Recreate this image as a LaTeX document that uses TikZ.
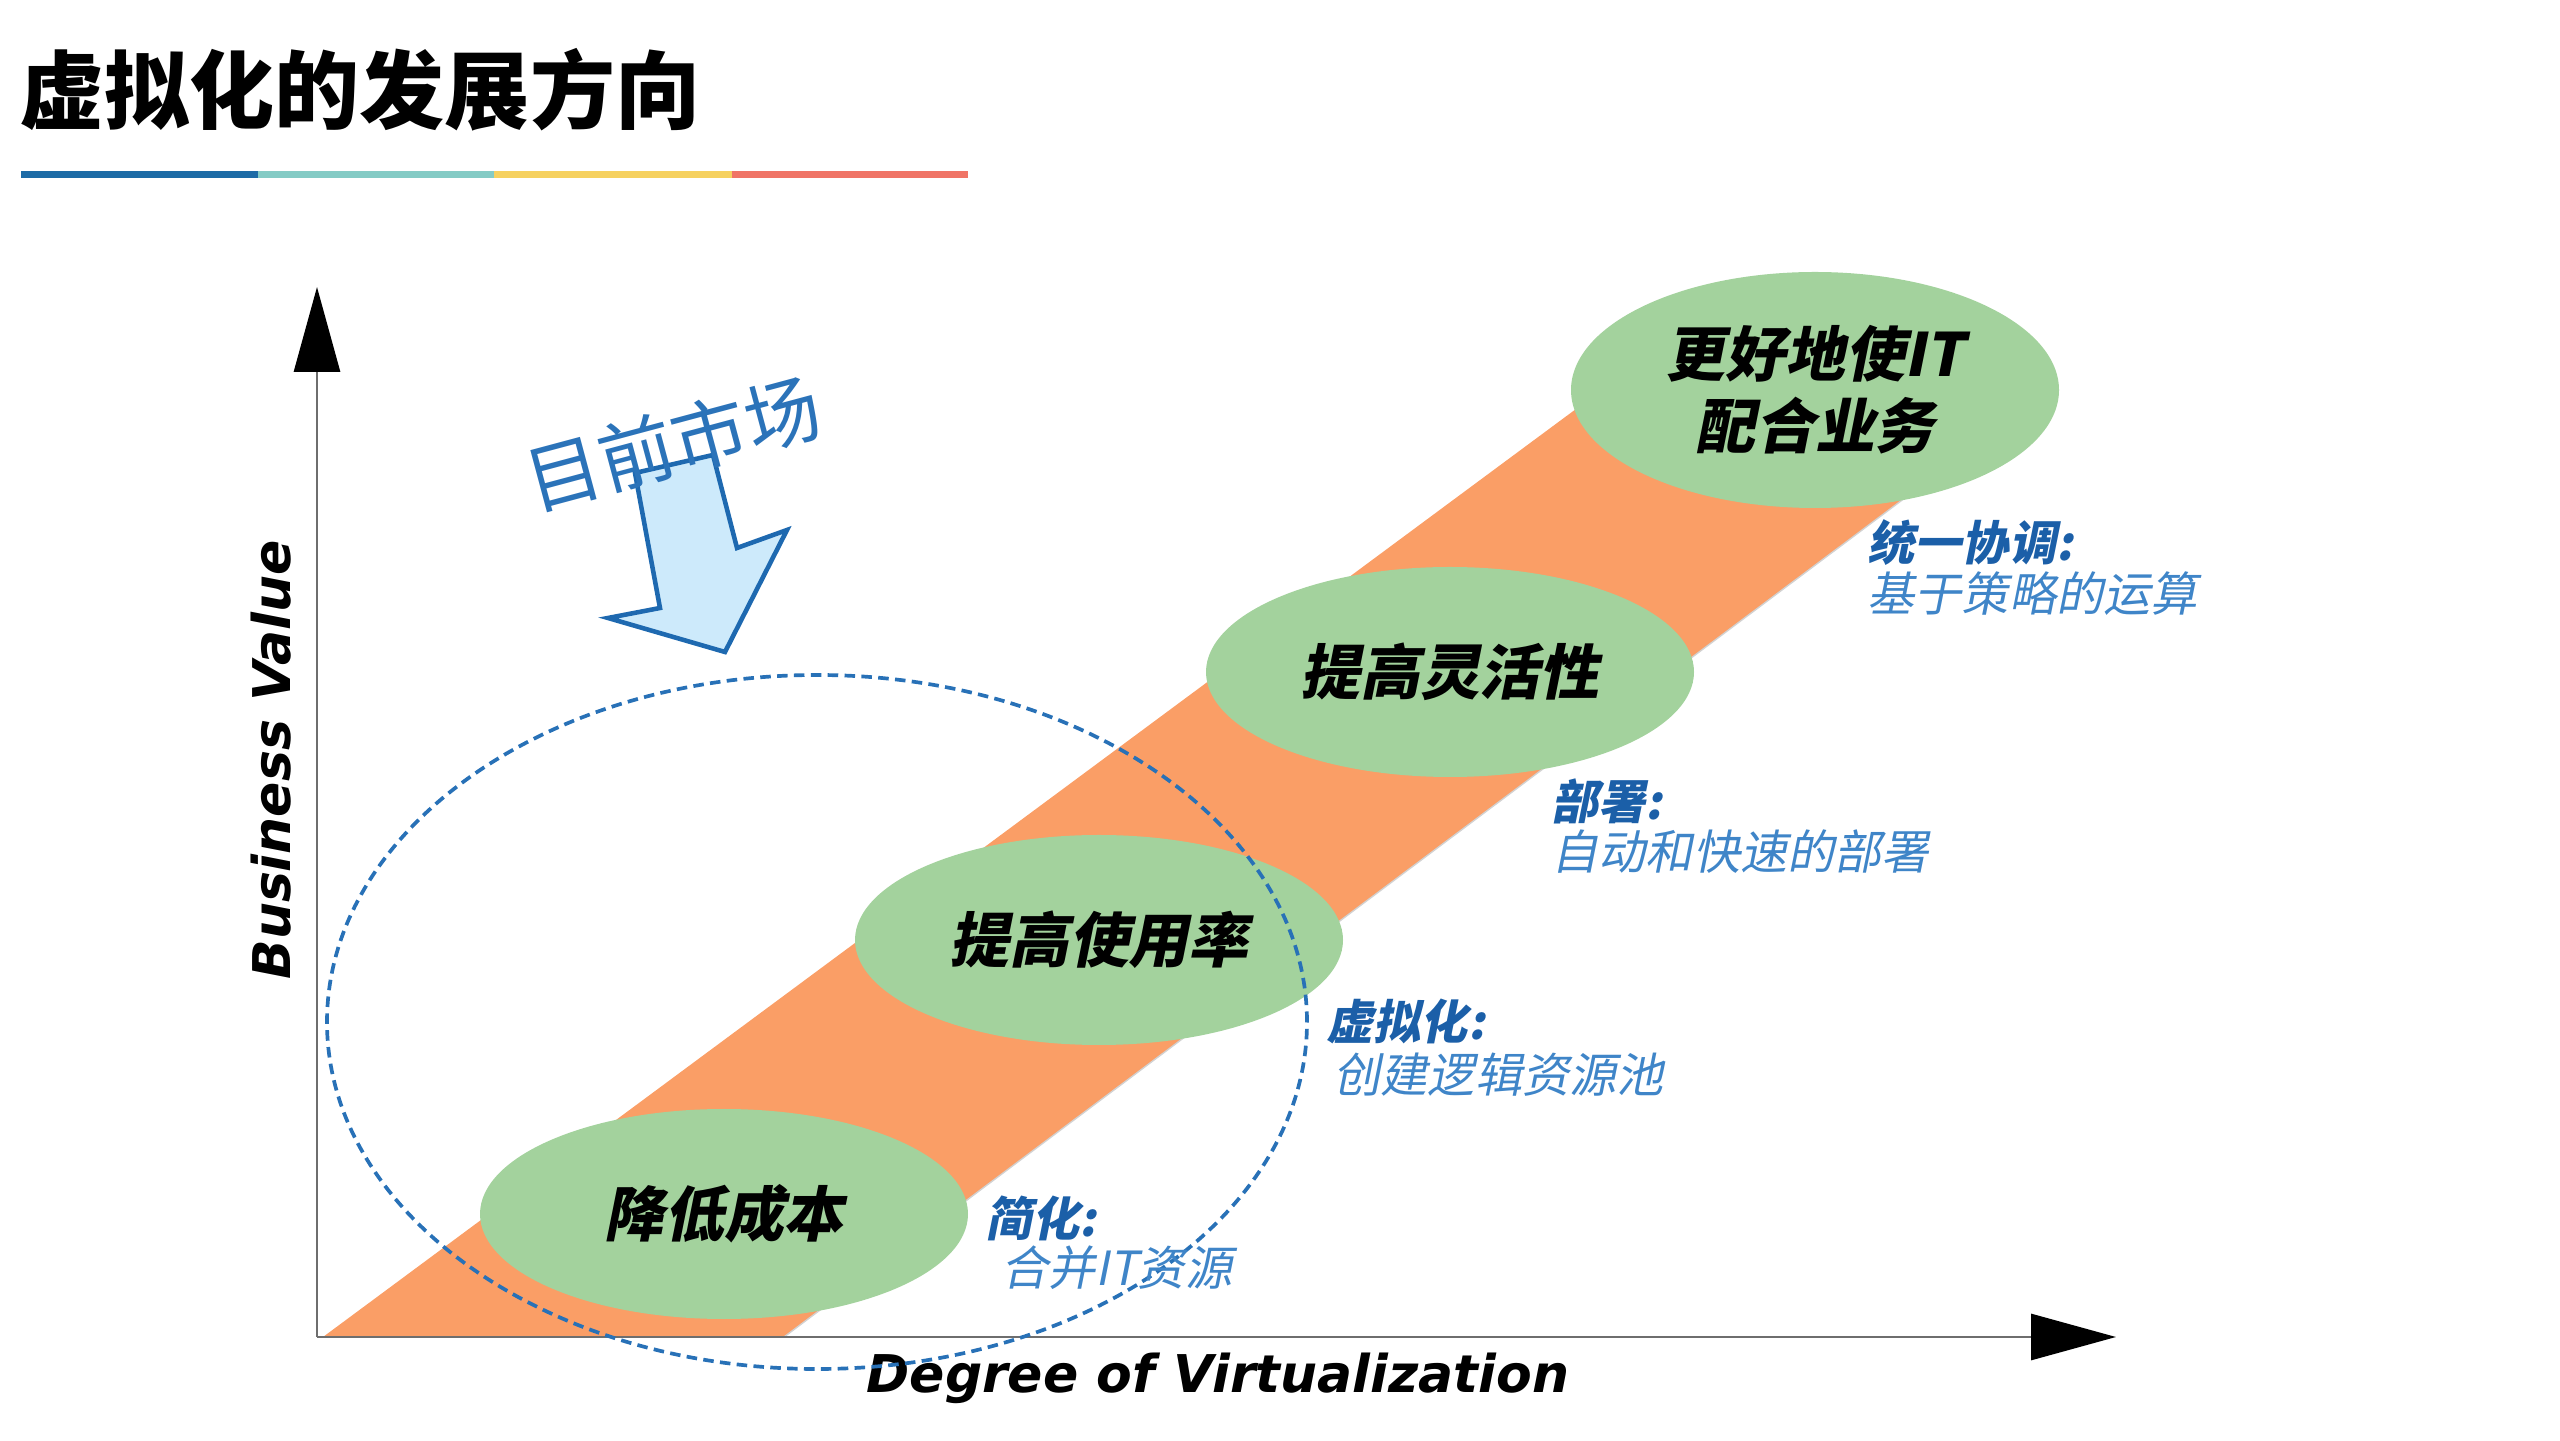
\documentclass[tikz,border=0pt]{standalone}
\usepackage{fontspec}
\setsansfont{DejaVu Sans}
\newfontfamily\cjk{Noto Sans CJK SC}
\newfontfamily\cjksl{Noto Sans CJK SC}[FakeSlant=0.2]
\usetikzlibrary{shapes.geometric}
\usetikzlibrary{arrows.meta}

\definecolor{barblue}{HTML}{1D6BA6}
\definecolor{barteal}{HTML}{84CBC5}
\definecolor{baryellow}{HTML}{F6D15F}
\definecolor{barred}{HTML}{F07466}
\definecolor{bandorange}{HTML}{FA9E66}
\definecolor{goalgreen}{HTML}{A3D29D}
\definecolor{headblue}{HTML}{1B5FA8}
\definecolor{textblue}{HTML}{3F85C8}
\definecolor{marketblue}{HTML}{2B73B9}
\definecolor{arrowline}{HTML}{1E69B0}
\definecolor{arrowfill}{HTML}{CDEAFB}
\definecolor{axisgray}{HTML}{6E6E6E}

\begin{document}
\begin{tikzpicture}[
  goal/.style={ellipse,fill=goalgreen,minimum width=4.88cm,minimum height=2.1cm,inner sep=0pt,align=center,
    font=\cjksl\bfseries\fontsize{17}{20.5}\selectfont},
  headlbl/.style={anchor=west,inner sep=0pt,text=headblue,font=\cjksl\bfseries\fontsize{13.4}{16}\selectfont},
  detaillbl/.style={anchor=west,inner sep=0pt,text=textblue,font=\cjksl\fontsize{13.4}{16}\selectfont},
  axislbl/.style={inner sep=0pt,font=\sffamily\bfseries\itshape\fontsize{14.8}{18}\selectfont},
  axis/.style={axisgray,line width=0.85pt,-{Triangle[length=0.85cm,width=0.46cm,color=black]}}]
  \useasboundingbox (0,0) rectangle (25.6,14.4);
  % title and bar
  \node[anchor=west,inner sep=0pt,font=\cjk\bfseries\fontsize{24.2}{29}\selectfont] (title) at (0.19,13.5) {虚拟化的发展方向};
  \draw[barblue,line width=0.07cm] (0.21,12.65) -- (2.58,12.65);
  \draw[barteal,line width=0.07cm] (2.58,12.65) -- (4.94,12.65);
  \draw[baryellow,line width=0.07cm] (4.94,12.65) -- (7.32,12.65);
  \draw[barred,line width=0.07cm] (7.32,12.65) -- (9.68,12.65);
  % band
  \fill[bandorange] (3.23,1.03) -- (7.84,1.03) -- (19.69,9.90) -- (17.07,11.28) -- cycle;
  \draw[gray!35,line width=0.4pt] (7.84,1.03) -- (19.69,9.90);
  % axes
  \coordinate (O) at (3.17,1.03);
  \coordinate (ytip) at (3.17,11.53);
  \coordinate (xtip) at (21.16,1.03);
  \draw[axis] (O) -- (ytip);
  \draw[axis] (O) -- (xtip);
  \node[axislbl,rotate=90] (yl) at (2.71,6.80) {Business Value};
  \node[axislbl] (xl) at (12.18,0.62) {Degree of Virtualization};
  % goals
  \node[goal] (cost) at (7.24,2.26) {降低成本};
  \node[goal] (use) at (10.99,5.00) {提高使用率};
  \node[goal] (flex) at (14.50,7.68) {提高灵活性};
  \node[goal,minimum height=2.36cm] (biz) at (18.15,10.50) {更好地使IT\\配合业务};
  % current market
  \draw[marketblue!80!arrowline,dash pattern=on 3pt off 1.8pt,line width=1.05pt] (8.17,4.18) ellipse [x radius=4.90,y radius=3.47];
  \draw[arrowline,fill=arrowfill,line width=1.3pt,line join=miter]
    (6.35,9.67) -- (7.13,9.85) -- (7.37,8.92) -- (7.87,9.10) -- (7.25,7.88) -- (6.08,8.22) -- (6.60,8.32) -- cycle;
  \node[rotate=15,inner sep=0pt,text=marketblue,font=\cjk\fontsize{21.5}{26}\selectfont] (market) at (6.73,9.97) {目前市场};
  % labels
  \node[headlbl] (simp) at (9.85,2.22) {简化:};
  \node[detaillbl] (simpd) at (10.01,1.72) {合并IT资源};
  \node[headlbl] (virt) at (13.26,4.19) {虚拟化:};
  \node[detaillbl] (virtd) at (13.33,3.65) {创建逻辑资源池};
  \node[headlbl] (depl) at (15.51,6.39) {部署:};
  \node[detaillbl] (depld) at (15.51,5.88) {自动和快速的部署};
  \node[headlbl] (orch) at (18.67,8.97) {统一协调:};
  \node[detaillbl] (orchd) at (18.67,8.46) {基于策略的运算};
\end{tikzpicture}
\end{document}
